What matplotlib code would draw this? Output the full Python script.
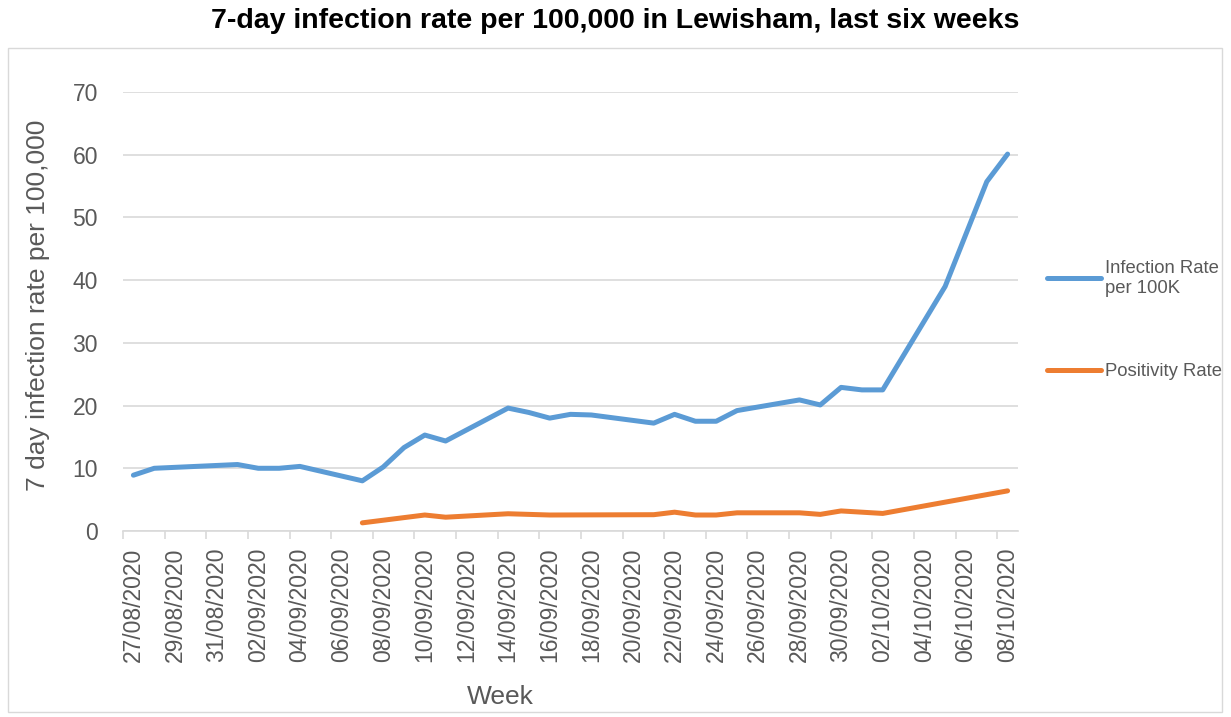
import datetime as dt
import matplotlib
matplotlib.use("Agg")
import matplotlib.pyplot as plt
from matplotlib.patches import Rectangle

# Data: 7-day infection rate per 100K and positivity rate (%)
infection_dates = [
    "27/08/2020", "28/08/2020", "01/09/2020", "02/09/2020", "03/09/2020",
    "04/09/2020", "07/09/2020", "08/09/2020", "09/09/2020", "10/09/2020",
    "11/09/2020", "14/09/2020", "15/09/2020", "16/09/2020", "17/09/2020",
    "18/09/2020", "21/09/2020", "22/09/2020", "23/09/2020", "24/09/2020",
    "25/09/2020", "28/09/2020", "29/09/2020", "30/09/2020", "01/10/2020",
    "02/10/2020", "05/10/2020", "07/10/2020", "08/10/2020",
]
infection_rate = [
    8.9, 10.0, 10.6, 10.0, 10.0,
    10.3, 8.0, 10.2, 13.3, 15.3,
    14.35, 19.6, 18.9, 18.0, 18.6,
    18.5, 17.2, 18.6, 17.5, 17.5,
    19.2, 20.9, 20.1, 22.9, 22.5,
    22.5, 39.0, 55.7, 60.1,
]

positivity_dates = [
    "07/09/2020", "10/09/2020", "11/09/2020", "14/09/2020", "16/09/2020",
    "21/09/2020", "22/09/2020", "23/09/2020", "24/09/2020", "25/09/2020",
    "28/09/2020", "29/09/2020", "30/09/2020", "02/10/2020", "05/10/2020",
    "08/10/2020",
]
positivity_rate = [
    1.3, 2.55, 2.2, 2.75, 2.55,
    2.6, 3.0, 2.55, 2.55, 2.9,
    2.9, 2.65, 3.2, 2.8, 4.6,
    6.4,
]

first_day = "27/08/2020"
last_day = "08/10/2020"
y_ticks = [0, 10, 20, 30, 40, 50, 60, 70]

title = "7-day infection rate per 100,000 in Lewisham, last six weeks"
series_names = ["Infection Rate\nper 100K", "Positivity Rate"]


def parse(d):
    return dt.datetime.strptime(d, "%d/%m/%Y")


plt.rcParams["font.family"] = ["Liberation Sans", "DejaVu Sans"]

W, H = 1231, 717
fig = plt.figure(figsize=(W / 100, H / 100), dpi=100)
fig.patch.set_facecolor("white")

# Chart-area border
fig.add_artist(Rectangle((8 / W, 1 - 712 / H), 1214 / W, 664 / H,
                         transform=fig.transFigure, fill=False,
                         edgecolor="#D9D9D9", linewidth=1.0))

fig.text(615 / W, 1 - 21 / H, title, ha="center", va="center",
         fontsize=20.5, fontweight="bold", color="black")

left, right, top, bottom = 123, 1018, 92, 531
ax = fig.add_axes([left / W, 1 - bottom / H, (right - left) / W, (bottom - top) / H])

blue = "#5B9BD5"
orange = "#ED7D31"
lw = 3.6

ax.plot([parse(d) for d in infection_dates], infection_rate, color=blue,
        linewidth=lw, solid_capstyle="round", solid_joinstyle="round",
        label=series_names[0], zorder=3)
ax.plot([parse(d) for d in positivity_dates], positivity_rate, color=orange,
        linewidth=lw, solid_capstyle="round", solid_joinstyle="round",
        label=series_names[1], zorder=3)

half = dt.timedelta(hours=12)
start, end = parse(first_day), parse(last_day)
ax.set_xlim(start - half, end + half)
ax.set_ylim(0, 70)

# X axis: label every second day, tick marks between categories
label_days = []
d = start
while d <= end:
    label_days.append(d)
    d += dt.timedelta(days=2)
ax.set_xticks(label_days)
ax.set_xticklabels([x.strftime("%d/%m/%Y") for x in label_days],
                   rotation=90, fontsize=16.5, color="#595959")
ax.set_xticks([x - half for x in label_days], minor=True)
ax.tick_params(axis="x", which="major", length=0, pad=12)
ax.tick_params(axis="x", which="minor", length=6, width=1.2, color="#D9D9D9")

ax.set_yticks(y_ticks)
ax.set_yticklabels([str(v) for v in y_ticks], fontsize=16.5, color="#595959")
ax.tick_params(axis="y", length=0, pad=18)

ax.grid(axis="y", color="#D9D9D9", linewidth=1.2)
ax.set_axisbelow(True)
for side in ["left", "right", "top"]:
    ax.spines[side].set_visible(False)
ax.spines["bottom"].set_color("#D9D9D9")
ax.spines["bottom"].set_linewidth(1.2)
ax.spines["bottom"].set_zorder(2)

ax.set_ylabel("7 day infection rate per 100,000", fontsize=19, color="#595959")
ax.yaxis.set_label_coords((38 - left) / (right - left), (bottom - 305) / (bottom - top))
ax.set_xlabel("Week", fontsize=19, color="#595959")
ax.xaxis.set_label_coords((500 - left) / (right - left), (bottom - 697) / (bottom - top))
ax.xaxis.label.set_va("center")
ax.yaxis.label.set_va("center")

leg = fig.legend(loc="upper left", bbox_to_anchor=(1047 / W, 1 - 260 / H),
                 frameon=False, fontsize=13.3, handlelength=2.9,
                 handletextpad=0.25, labelspacing=3.62, borderpad=0,
                 borderaxespad=0)
for t in leg.get_texts():
    t.set_color("#595959")

fig.savefig("out.png", dpi=100)
